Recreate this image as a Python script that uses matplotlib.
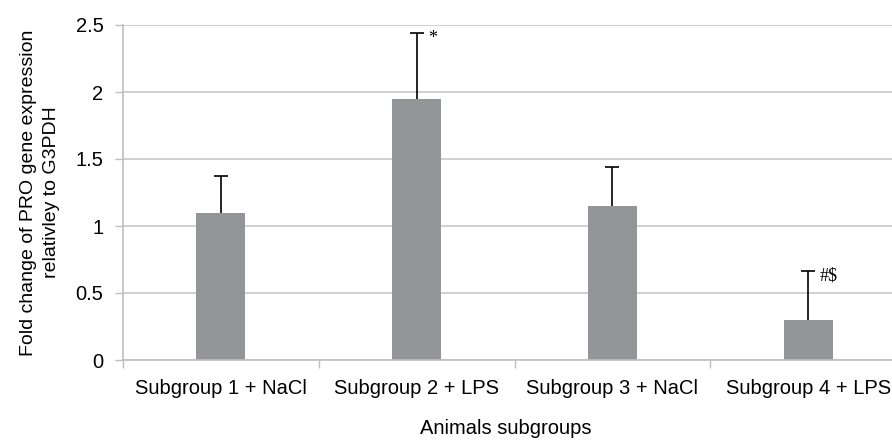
import matplotlib
matplotlib.use("Agg")
import matplotlib.pyplot as plt

# data
groups = ['Subgroup 1 + NaCl', 'Subgroup 2 + LPS', 'Subgroup 3 + NaCl', 'Subgroup 4 + LPS']
fold_change = [1.10, 1.95, 1.15, 0.30]
err_up = [0.275, 0.49, 0.29, 0.365]
marks = ['', '*', '', '#$']
yticks = [0, 0.5, 1, 1.5, 2, 2.5]
ytick_labels = ['0', '0.5', '1', '1.5', '2', '2.5']

plt.rcParams['font.family'] = ['Liberation Sans', 'DejaVu Sans']

W, H = 892, 443
fig = plt.figure(figsize=(W / 100, H / 100), dpi=100)
# axes runs a little past the right edge like in the original
ax = fig.add_axes([123 / W, (H - 360) / H, (906 - 123) / W, (360 - 25) / H])

x = list(range(len(groups)))
ax.bar(x, fold_change, width=0.25, color='#939598', zorder=2)
_, caps, _ = ax.errorbar(x, fold_change, yerr=[[0] * len(x), err_up], fmt='none',
                         ecolor='black', elinewidth=1.2, capsize=5, capthick=1.2, zorder=3)
caps[0].set_visible(False)  # only the upper cap

for i, m in enumerate(marks):
    if m:
        ax.annotate(m, (i, fold_change[i] + err_up[i]), xytext=(8, -10),
                    textcoords='offset points', fontsize=13,
                    family='Liberation Serif', ha='left', va='bottom')

ax.set_xlim(-0.5, 3.5)
ax.set_ylim(0, 2.5)
ax.set_yticks(yticks)
ax.set_yticklabels(ytick_labels, fontsize=14.5)
ax.yaxis.grid(True, color='#c8c8c8', linewidth=1.2, zorder=0)
ax.set_axisbelow(True)

ax.set_xticks(x)
ax.set_xticklabels(groups, fontsize=14.5)
ax.tick_params(axis='x', length=0, pad=14)
ax.set_xticks([-0.5, 0.5, 1.5, 2.5, 3.5], minor=True)
ax.tick_params(axis='x', which='minor', length=6, color='#bfbfbf', width=1)
ax.tick_params(axis='y', length=6, color='#bfbfbf', width=1, pad=8)

for s in ['top', 'right']:
    ax.spines[s].set_visible(False)
for s in ['left', 'bottom']:
    ax.spines[s].set_color('#bfbfbf')
    ax.spines[s].set_linewidth(1.2)

ax.set_ylabel('Fold change of PRO gene expression\nrelativley to G3PDH', fontsize=14,
              linespacing=1.45)
ax.yaxis.set_label_coords(-63 / (906 - 123), 0.5)
fig.text(506 / W, 1 - 428 / H, 'Animals subgroups', fontsize=14.5, ha='center', va='center')

fig.savefig('out.png', dpi=100)
